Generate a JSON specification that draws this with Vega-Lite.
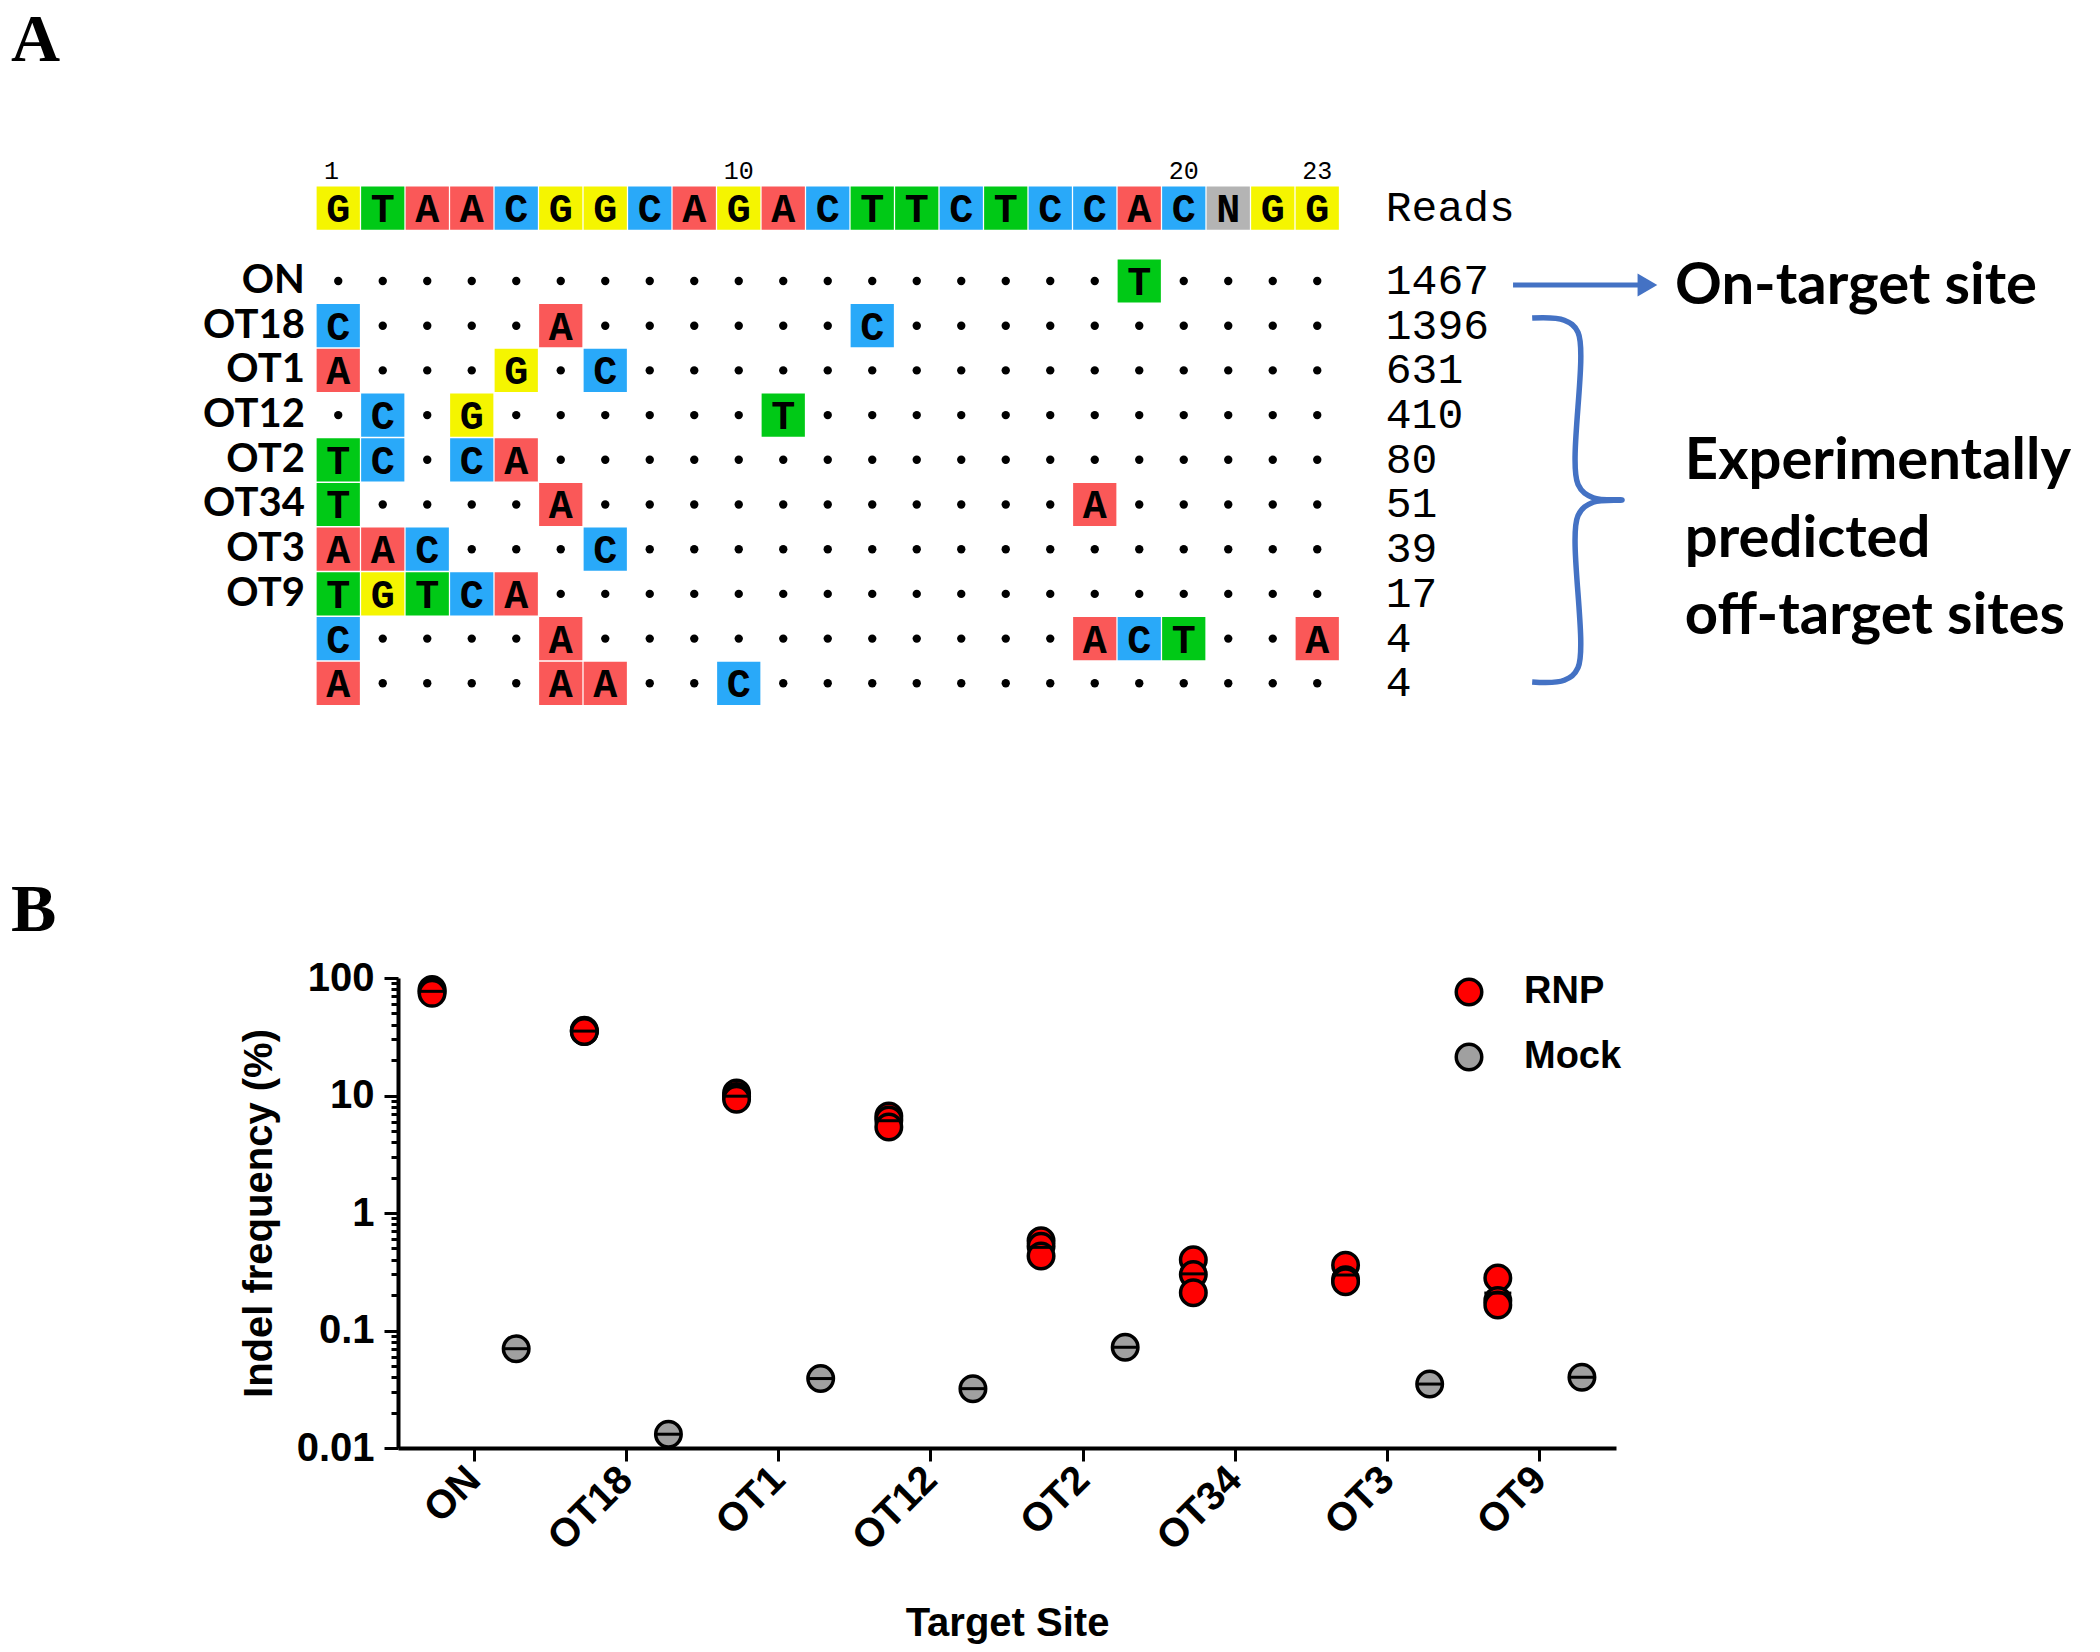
{
  "$schema": "https://vega.github.io/schema/vega-lite/v6.json",
  "padding": 0,
  "background": "white",
  "config": {"view": {"stroke": null}},
  "bounds": "flush",
  "spacing": 0,
  "resolve": {"scale": {"color": "independent"}, "legend": {"color": "independent"}},
  "datasets": {
    "cells": [
      {"r": -0.633, "c": [1,2,3,4,5,6,7,8,9,10,11,12,13,14,15,16,17,18,19,20,21,22,23], "b": ["G","T","A","A","C","G","G","C","A","G","A","C","T","T","C","T","C","C","A","C","N","G","G"]},
      {"r": 1, "c": [19], "b": ["T"]},
      {"r": 2, "c": [1,6,13], "b": ["C","A","C"]},
      {"r": 3, "c": [1,5,7], "b": ["A","G","C"]},
      {"r": 4, "c": [2,4,11], "b": ["C","G","T"]},
      {"r": 5, "c": [1,2,4,5], "b": ["T","C","C","A"]},
      {"r": 6, "c": [1,6,18], "b": ["T","A","A"]},
      {"r": 7, "c": [1,2,3,7], "b": ["A","A","C","C"]},
      {"r": 8, "c": [1,2,3,4,5], "b": ["T","G","T","C","A"]},
      {"r": 9, "c": [1,6,18,19,20,23], "b": ["C","A","A","C","T","A"]},
      {"r": 10, "c": [1,6,7,10], "b": ["A","A","A","C"]}
    ],
    "dots": [
      {"r": 1, "c": [1,2,3,4,5,6,7,8,9,10,11,12,13,14,15,16,17,18,20,21,22,23]},
      {"r": 2, "c": [2,3,4,5,7,8,9,10,11,12,14,15,16,17,18,19,20,21,22,23]},
      {"r": 3, "c": [2,3,4,6,8,9,10,11,12,13,14,15,16,17,18,19,20,21,22,23]},
      {"r": 4, "c": [1,3,5,6,7,8,9,10,12,13,14,15,16,17,18,19,20,21,22,23]},
      {"r": 5, "c": [3,6,7,8,9,10,11,12,13,14,15,16,17,18,19,20,21,22,23]},
      {"r": 6, "c": [2,3,4,5,7,8,9,10,11,12,13,14,15,16,17,19,20,21,22,23]},
      {"r": 7, "c": [4,5,6,8,9,10,11,12,13,14,15,16,17,18,19,20,21,22,23]},
      {"r": 8, "c": [6,7,8,9,10,11,12,13,14,15,16,17,18,19,20,21,22,23]},
      {"r": 9, "c": [2,3,4,5,7,8,9,10,11,12,13,14,15,16,17,21,22]},
      {"r": 10, "c": [2,3,4,5,8,9,11,12,13,14,15,16,17,18,19,20,21,22,23]}
    ]
  },
  "vconcat": [
    {
      "width": 2100,
      "height": 978,
      "layer": [
        {
          "data": {"values": [{"t": "A", "x": -6.354, "y": -4.38}, {"t": "B", "x": -6.354, "y": 15.09}]},
          "mark": {"type": "text", "font": "Liberation Serif", "fontWeight": "bold", "fontSize": 68, "align": "left", "baseline": "middle", "color": "black"},
          "encoding": {
            "x": {"field": "x", "type": "quantitative", "scale": {"domain": [-6.601, 40.59], "nice": false, "zero": false}, "axis": null},
            "y": {"field": "y", "type": "quantitative", "scale": {"domain": [-5.2864, 16.593], "nice": false, "zero": false, "reverse": true}, "axis": null},
            "text": {"field": "t"}
          }
        },
        {
          "data": {"values": [{"t": "1", "c": 0.85}, {"t": "10", "c": 10}, {"t": "20", "c": 20}, {"t": "23", "c": 23}]},
          "mark": {"type": "text", "font": "Liberation Mono", "fontSize": 25, "align": "center", "baseline": "middle", "color": "black"},
          "encoding": {
            "x": {"field": "c", "type": "quantitative"},
            "y": {"datum": -1.46, "type": "quantitative"},
            "text": {"field": "t"}
          }
        },
        {
          "data": {"name": "cells"},
          "transform": [{"flatten": ["c", "b"]}],
          "mark": {"type": "point", "shape": "square", "filled": true, "size": 1870, "opacity": 1, "strokeWidth": 0},
          "encoding": {
            "x": {"field": "c", "type": "quantitative"},
            "y": {"field": "r", "type": "quantitative"},
            "color": {"field": "b", "type": "nominal", "scale": {"domain": ["A", "C", "G", "T", "N"], "range": ["#FA5858", "#29A9F9", "#F5F500", "#00C916", "#B4B4B4"]}, "legend": null}
          }
        },
        {
          "data": {"name": "cells"},
          "transform": [{"flatten": ["c", "b"]}],
          "mark": {"type": "text", "font": "Liberation Mono", "fontWeight": "bold", "fontSize": 40, "align": "center", "baseline": "middle", "color": "black", "dy": 2},
          "encoding": {
            "x": {"field": "c", "type": "quantitative"},
            "y": {"field": "r", "type": "quantitative"},
            "text": {"field": "b"}
          }
        },
        {
          "data": {"name": "dots"},
          "transform": [{"flatten": ["c"]}],
          "mark": {"type": "point", "shape": "circle", "filled": true, "size": 70, "color": "black", "opacity": 1},
          "encoding": {
            "x": {"field": "c", "type": "quantitative"},
            "y": {"field": "r", "type": "quantitative"}
          }
        },
        {
          "data": {"values": [{"n": "ON", "r": 1}, {"n": "OT18", "r": 2}, {"n": "OT1", "r": 3}, {"n": "OT12", "r": 4}, {"n": "OT2", "r": 5}, {"n": "OT34", "r": 6}, {"n": "OT3", "r": 7}, {"n": "OT9", "r": 8}]},
          "mark": {"type": "text", "font": "Lato", "fontWeight": "bold", "fontSize": 40, "align": "right", "baseline": "middle", "color": "black"},
          "encoding": {
            "x": {"datum": 0.25, "type": "quantitative"},
            "y": {"field": "r", "type": "quantitative"},
            "text": {"field": "n"}
          }
        },
        {
          "data": {"values": [{"v": "Reads", "r": -0.633}, {"v": "1467", "r": 1}, {"v": "1396", "r": 2}, {"v": "631", "r": 3}, {"v": "410", "r": 4}, {"v": "80", "r": 5}, {"v": "51", "r": 6}, {"v": "39", "r": 7}, {"v": "17", "r": 8}, {"v": "4", "r": 9}, {"v": "4", "r": 10}]},
          "mark": {"type": "text", "font": "Liberation Mono", "fontSize": 43, "align": "left", "baseline": "middle", "color": "black"},
          "encoding": {
            "x": {"datum": 24.54, "type": "quantitative"},
            "y": {"field": "r", "type": "quantitative"},
            "text": {"field": "v"}
          }
        },
        {
          "data": {"values": [{"x1": 27.4, "x2": 30.35, "y": 1.09}]},
          "mark": {"type": "rule", "color": "#4472C4", "strokeWidth": 5},
          "encoding": {
            "x": {"field": "x1", "type": "quantitative"},
            "x2": {"field": "x2"},
            "y": {"field": "y", "type": "quantitative"}
          }
        },
        {
          "data": {"values": [{"x": 30.42, "y": 1.09}]},
          "mark": {"type": "point", "shape": "triangle-right", "filled": true, "size": 520, "color": "#4472C4", "opacity": 1},
          "encoding": {
            "x": {"field": "x", "type": "quantitative"},
            "y": {"field": "y", "type": "quantitative"}
          }
        },
        {
          "data": {"values": [
            {"i": 1, "x": 27.83, "y": 1.83},
            {"i": 2, "x": 28.55, "y": 1.88},
            {"i": 3, "x": 28.86, "y": 2.15},
            {"i": 4, "x": 28.86, "y": 5.55},
            {"i": 5, "x": 29.2, "y": 5.85},
            {"i": 6, "x": 29.85, "y": 5.9},
            {"i": 7, "x": 29.2, "y": 5.95},
            {"i": 8, "x": 28.86, "y": 6.25},
            {"i": 9, "x": 28.86, "y": 9.65},
            {"i": 10, "x": 28.55, "y": 9.93},
            {"i": 11, "x": 27.83, "y": 9.97}
          ]},
          "mark": {"type": "line", "color": "#4472C4", "strokeWidth": 5.5, "interpolate": "catmull-rom"},
          "encoding": {
            "x": {"field": "x", "type": "quantitative"},
            "y": {"field": "y", "type": "quantitative"},
            "order": {"field": "i", "type": "quantitative"}
          }
        },
        {
          "data": {"values": [{"t": "On-target site", "x": 31.04, "y": 1.13}, {"t": "Experimentally", "x": 31.26, "y": 5.05}, {"t": "predicted", "x": 31.26, "y": 6.79}, {"t": "off-target sites", "x": 31.26, "y": 8.52}]},
          "mark": {"type": "text", "font": "Lato", "fontWeight": "bold", "fontSize": 58, "align": "left", "baseline": "middle", "color": "black"},
          "encoding": {
            "x": {"field": "x", "type": "quantitative"},
            "y": {"field": "y", "type": "quantitative"},
            "text": {"field": "t"}
          }
        }
      ]
    },
    {
      "bounds": "flush",
      "spacing": 0,
      "hconcat": [
        {
          "width": 398,
          "height": 470,
          "data": {"values": [{}]},
          "mark": {"type": "text", "text": ""},
          "encoding": {}
        },
        {
          "width": 1218,
          "height": 470,
          "data": {"values": [
            {"site": "ON", "group": "RNP", "value": 80}, {"site": "ON", "group": "RNP", "value": 77}, {"site": "ON", "group": "RNP", "value": 74},
            {"site": "OT18", "group": "RNP", "value": 36}, {"site": "OT18", "group": "RNP", "value": 35}, {"site": "OT18", "group": "RNP", "value": 35},
            {"site": "OT1", "group": "RNP", "value": 10.5}, {"site": "OT1", "group": "RNP", "value": 9.8}, {"site": "OT1", "group": "RNP", "value": 9.3},
            {"site": "OT12", "group": "RNP", "value": 6.7}, {"site": "OT12", "group": "RNP", "value": 6.2}, {"site": "OT12", "group": "RNP", "value": 5.4},
            {"site": "OT2", "group": "RNP", "value": 0.58}, {"site": "OT2", "group": "RNP", "value": 0.52}, {"site": "OT2", "group": "RNP", "value": 0.43},
            {"site": "OT34", "group": "RNP", "value": 0.40}, {"site": "OT34", "group": "RNP", "value": 0.30}, {"site": "OT34", "group": "RNP", "value": 0.21},
            {"site": "OT3", "group": "RNP", "value": 0.36}, {"site": "OT3", "group": "RNP", "value": 0.27}, {"site": "OT3", "group": "RNP", "value": 0.26},
            {"site": "OT9", "group": "RNP", "value": 0.28}, {"site": "OT9", "group": "RNP", "value": 0.18}, {"site": "OT9", "group": "RNP", "value": 0.165},
            {"site": "ON", "group": "Mock", "value": 0.070},
            {"site": "OT18", "group": "Mock", "value": 0.0131},
            {"site": "OT1", "group": "Mock", "value": 0.039},
            {"site": "OT12", "group": "Mock", "value": 0.032},
            {"site": "OT2", "group": "Mock", "value": 0.072},
            {"site": "OT3", "group": "Mock", "value": 0.035},
            {"site": "OT9", "group": "Mock", "value": 0.040}
          ]},
          "encoding": {
            "x": {
              "field": "site", "type": "nominal",
              "scale": {"domain": ["ON", "OT18", "OT1", "OT12", "OT2", "OT34", "OT3", "OT9"], "paddingInner": 0, "paddingOuter": 0},
              "title": "Target Site",
              "axis": {
                "labelAngle": -45, "labelAlign": "right", "labelBaseline": "middle",
                "labelFont": "Liberation Sans", "labelFontWeight": "bold", "labelFontSize": 40, "labelColor": "black", "labelPadding": 12,
                "tickSize": 13, "tickWidth": 3, "tickColor": "black",
                "domainWidth": 4, "domainColor": "black",
                "titleFont": "Liberation Sans", "titleFontWeight": "bold", "titleFontSize": 40, "titleColor": "black", "titlePadding": 46,
                "grid": false, "labelOverlap": false
              }
            },
            "xOffset": {"field": "group", "type": "nominal", "scale": {"domain": ["RNP", "Mock"], "type": "point", "padding": 0.405}},
            "y": {
              "field": "value", "type": "quantitative",
              "scale": {"type": "log", "domain": [0.01, 100], "nice": false},
              "title": "Indel frequency (%)",
              "axis": {
                "values": [0.01, 0.02, 0.03, 0.04, 0.05, 0.06, 0.07, 0.08, 0.09, 0.1, 0.2, 0.3, 0.4, 0.5, 0.6, 0.7, 0.8, 0.9, 1, 2, 3, 4, 5, 6, 7, 8, 9, 10, 20, 30, 40, 50, 60, 70, 80, 90, 100],
                "format": "~g",
                "labelExpr": "indexof([0.01, 0.1, 1, 10, 100], datum.value) >= 0 ? datum.label : ''",
                "tickSize": {"condition": {"test": "indexof([0.01, 0.1, 1, 10, 100], datum.value) >= 0", "value": 14}, "value": 7},
                "tickWidth": 3, "tickColor": "black",
                "domainWidth": 4, "domainColor": "black",
                "labelFont": "Liberation Sans", "labelFontWeight": "bold", "labelFontSize": 40, "labelColor": "black", "labelPadding": 10,
                "titleFont": "Liberation Sans", "titleFontWeight": "bold", "titleFontSize": 40, "titleColor": "black", "titlePadding": 17,
                "grid": false, "labelOverlap": false, "labelFlush": false
              }
            }
          },
          "layer": [
            {
              "mark": {"type": "point", "shape": "circle", "filled": true, "size": 650, "stroke": "black", "strokeWidth": 3.5, "opacity": 1},
              "encoding": {
                "color": {
                  "field": "group", "type": "nominal",
                  "scale": {"domain": ["RNP", "Mock"], "range": ["#FF0000", "#A0A0A0"]},
                  "legend": {
                    "title": null, "orient": "none", "legendX": 1450, "legendY": -5,
                    "symbolType": "circle", "symbolSize": 650, "symbolStrokeColor": "black", "symbolStrokeWidth": 3.5, "symbolOpacity": 1,
                    "labelFont": "Liberation Sans", "labelFontWeight": "bold", "labelFontSize": 38, "labelColor": "black",
                    "labelOffset": 36, "rowPadding": 25, "padding": 0
                  }
                }
              }
            },
            {
              "mark": {"type": "tick", "color": "black", "size": 27, "thickness": 3, "opacity": 1},
              "encoding": {
                "y": {"aggregate": "mean", "field": "value", "type": "quantitative"}
              }
            }
          ]
        }
      ]
    }
  ]
}
